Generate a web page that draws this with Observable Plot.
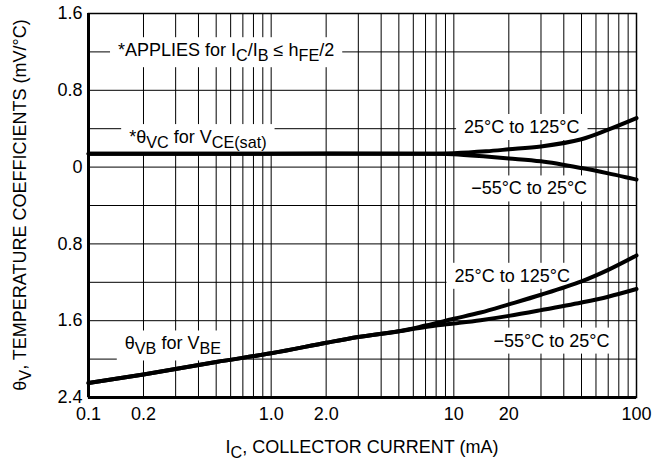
<!DOCTYPE html>
<html><head><meta charset="utf-8">
<script src="https://cdn.jsdelivr.net/npm/d3@7"></script>
<script src="https://cdn.jsdelivr.net/npm/@observablehq/plot@0.6"></script>
<style>body{margin:0;background:#fff;} svg{display:block}</style>
</head><body><div id="chart"></div>
<script>
// ---- data ----
const xTicks = [0.1, 0.2, 0.5, 1, 2, 5, 10, 20, 50, 100];
const xTickLabels = ["0.1", "0.2", "0.5", "1.0", "2.0", "5.0", "10", "20", "50", "100"];
const yTicks = [1.6, 0.8, 0, -0.8, -1.6, -2.4];
const yTickLabels = ["1.6", "0.8", "0", "0.8", "1.6", "2.4"];
const xGrid = [0.1,0.2,0.3,0.4,0.5,0.6,0.7,0.8,0.9,1,2,3,4,5,6,7,8,9,10,20,30,40,50,60,70,80,90,100];
const yGrid = [-2.4,-2.0,-1.6,-1.2,-0.8,-0.4,0,0.4,0.8,1.2,1.6];

const vcCurrent = [0.1, 1, 8, 10, 15, 20, 30, 50, 70, 100];
const vcHot  = [0.14, 0.14, 0.14, 0.145, 0.165, 0.185, 0.215, 0.29, 0.39, 0.51];
const vcCold = [0.14, 0.14, 0.14, 0.135, 0.11, 0.09, 0.06, -0.01, -0.065, -0.13];

const vbCurrent = [0.1, 0.2, 0.5, 1, 2, 3, 5, 7, 10, 14, 20, 30, 50, 70, 100];
const vbHot  = [-2.25, -2.16, -2.03, -1.94, -1.83, -1.77, -1.71, -1.65, -1.58, -1.515, -1.43, -1.33, -1.19, -1.07, -0.92];
const vbCold = [-2.25, -2.16, -2.03, -1.94, -1.83, -1.77, -1.71, -1.665, -1.63, -1.595, -1.55, -1.49, -1.41, -1.35, -1.27];

const rows = [];
vcCurrent.forEach((c, i) => { rows.push({s: "vcHot", c, v: vcHot[i]}); rows.push({s: "vcCold", c, v: vcCold[i]}); });
vbCurrent.forEach((c, i) => { rows.push({s: "vbHot", c, v: vbHot[i]}); rows.push({s: "vbCold", c, v: vbCold[i]}); });
const ordered = ["vcHot","vcCold","vbHot","vbCold"].flatMap(s => rows.filter(r => r.s === s));

// annotations: [x, y(baseline), anchor, parts]
const notes = [
  [0.146, 1.15, "start", [["*APPLIES for I"],["C",1],["/I"],["B",1],[" \u2264 h"],["FE",1],["/2"]]],
  [0.168, 0.245, "start", [["*\u03B8"],["VC",1],[" for V"],["CE(sat)",1]]],
  [23.7, 0.35, "middle", [["25\u00B0C to 125\u00B0C"]]],
  [26, -0.29, "middle", [["\u221255\u00B0C to 25\u00B0C"]]],
  [21, -1.20, "middle", [["25\u00B0C to 125\u00B0C"]]],
  [34.5, -1.875, "middle", [["\u221255\u00B0C to 25\u00B0C"]]],
  [0.159, -1.905, "start", [["\u03B8"],["VB",1],[" for V"],["BE",1]]]
];

const FONT = "'Liberation Sans', Arial, Helvetica, sans-serif";
const FS = 18;

const plot = Plot.plot({
  width: 664, height: 463,
  marginLeft: 88, marginRight: 28, marginTop: 13, marginBottom: 66,
  style: {fontFamily: FONT, fontSize: FS + "px", color: "#000", background: "#fff"},
  x: {type: "log", domain: [0.1, 100], ticks: xTicks,
      tickFormat: d => xTickLabels[xTicks.indexOf(d)], tickSize: 0, tickPadding: 10, label: null},
  y: {domain: [-2.4, 1.6], ticks: yTicks,
      tickFormat: d => yTickLabels[yTicks.indexOf(d)], tickSize: 0, tickPadding: 6, label: null},
  marks: [
    Plot.ruleX(xGrid, {stroke: "#000", strokeWidth: 1}),
    Plot.ruleY(yGrid, {stroke: "#000", strokeWidth: 1}),
    Plot.frame({stroke: "#000", strokeWidth: 1.5}),
    Plot.ruleX([0.1], {stroke: "#000", strokeWidth: 3}),
    Plot.ruleY([-2.4], {stroke: "#000", strokeWidth: 3}),
    Plot.line(ordered, {x: "c", y: "v", z: "s", curve: "catmull-rom", stroke: "#000", strokeWidth: 4})
  ]
});
document.getElementById("chart").append(plot);

const sx = plot.scale("x"), sy = plot.scale("y");
const fx = d3.scaleLog().domain(sx.domain).range(sx.range);
const fy = d3.scaleLinear().domain(sy.domain).range(sy.range);
const svg = d3.select(plot);

function richText(g, x, y, anchor, parts, size, transform) {
  const t = g.append("text").attr("x", x).attr("y", y).attr("text-anchor", anchor)
    .attr("font-family", FONT).attr("font-size", size).attr("fill", "#000");
  if (transform) t.attr("transform", transform);
  let shifted = false;
  parts.forEach(([s, sub]) => {
    const ts = t.append("tspan").text(s);
    if (sub && !shifted) { ts.attr("dy", 5).attr("font-size", size * 0.9); shifted = true; }
    else if (sub) { ts.attr("font-size", size * 0.9); }
    else if (!sub && shifted) { ts.attr("dy", -5); shifted = false; }
  });
  return t;
}

// annotation layer placed below the curves
const lineG = plot.querySelector('[aria-label="line"]');
const ann = d3.create("svg:g").attr("aria-label", "annotations");
plot.insertBefore(ann.node(), lineG);
notes.forEach(([x, y, anchor, parts]) => {
  const t = richText(ann, fx(x), fy(y), anchor, parts, FS);
  const b = t.node().getBBox();
  ann.insert("rect", () => t.node())
    .attr("x", b.x - 8).attr("y", b.y - 3).attr("width", b.width + 16).attr("height", b.height + 6)
    .attr("fill", "#fff");
});

// axis titles
richText(svg, (sx.range[0] + sx.range[1]) / 2, 453, "middle",
  [["I"],["C",1],[", COLLECTOR CURRENT (mA)"]], FS);
richText(svg, 0, 0, "middle",
  [["\u03B8"],["V",1],[", TEMPERATURE COEFFICIENTS (mV/\u00B0C)"]], FS,
  `translate(26,${(sy.range[0] + sy.range[1]) / 2}) rotate(-90)`);
</script>
</body></html>
